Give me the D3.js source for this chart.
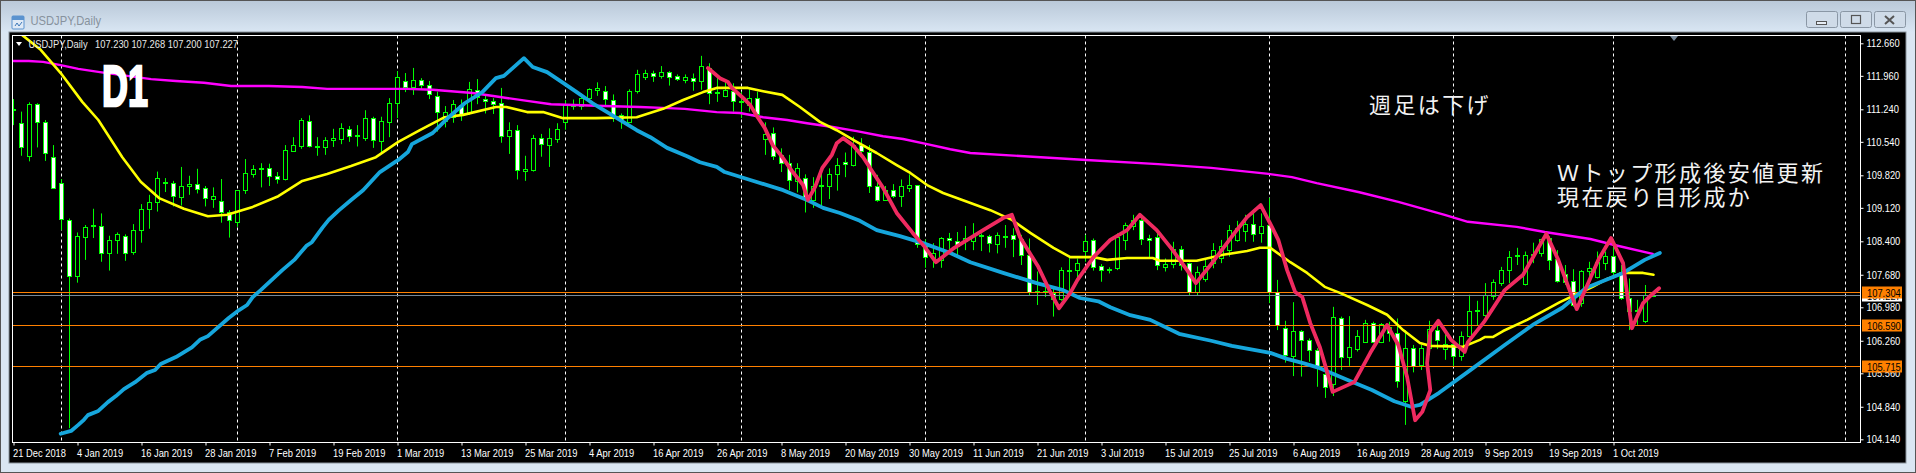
<!DOCTYPE html>
<html>
<head>
<meta charset="utf-8">
<script src="https://cdn.jsdelivr.net/npm/d3@7"></script>
<style>
    html, body { margin: 0; padding: 0; background: #000; overflow: hidden; }
    svg { display: block; }
    text { font-family: "Liberation Sans", sans-serif; }
    .jp { font-family: "Noto Sans CJK JP", sans-serif; font-size: 22px; letter-spacing: 2.4px; fill: #f2f2f2; }
</style>
</head>
<body>
<div id="chart"></div>
<script>
// daily candles
let opens = [
    111.20,110.94,110.24,111.35,110.96,110.21,109.65,108.85,107.64,108.49,
    108.72,108.72,108.14,108.42,108.51,108.16,108.63,109.08,109.24,109.67,
    109.65,109.34,109.58,109.63,109.54,109.30,109.26,109.02,108.82,109.49,
    109.84,109.94,109.97,109.80,109.73,110.35,110.44,110.98,110.43,110.42,
    110.57,110.59,110.81,110.65,110.63,111.05,110.54,110.97,111.36,111.84,
    111.71,111.86,111.76,111.52,110.97,111.08,111.33,111.15,111.65,111.45,
    111.41,111.37,110.67,110.79,109.90,109.94,110.62,110.46,110.59,110.96,
    111.30,111.30,111.46,111.65,111.63,111.43,111.11,110.97,111.62,111.93,
    112.01,111.94,112.04,111.95,111.86,111.91,111.84,112.12,111.61,111.53,
    111.62,111.40,111.33,111.47,110.59,110.72,110.24,110.07,109.70,109.76,
    109.28,109.58,109.58,109.84,110.10,110.04,110.47,110.31,109.58,109.28,
    109.49,109.36,109.54,109.60,108.32,108.04,108.00,108.45,108.39,108.41,
    108.41,108.51,108.50,108.33,108.51,108.53,108.44,108.10,107.30,107.29,
    107.28,107.15,107.75,107.77,108.18,108.42,107.86,107.77,107.82,108.41,
    108.72,108.84,108.46,108.49,107.83,107.90,108.23,107.93,107.30,107.57,
    107.93,108.03,108.20,108.43,108.61,108.77,108.56,108.74,107.30,106.53,
    105.92,106.46,106.26,106.06,105.54,105.31,106.74,105.90,106.06,106.23,
    106.63,106.22,106.54,106.42,104.97,106.10,105.73,106.10,106.48,106.06,
    106.19,105.93,106.35,106.91,106.81,107.22,107.51,107.78,108.08,107.47,
    108.11,108.12,108.46,108.00,107.69,107.54,107.07,107.75,107.63,107.94,
    108.08,107.73,107.17,106.89,106.66,107.230];
let highs = [
    111.46,111.19,111.39,111.37,111.01,110.47,109.74,108.89,108.59,108.75,
    109.10,109.00,108.52,108.59,108.55,108.77,109.20,109.40,109.90,109.76,
    109.70,110.00,109.81,109.96,109.59,109.56,109.74,109.07,109.50,110.17,
    110.04,110.08,110.07,109.89,110.47,110.64,111.05,111.11,110.64,110.64,
    110.82,110.94,110.88,110.90,111.22,111.08,111.08,111.48,112.06,112.02,
    112.13,111.91,111.85,111.62,111.31,111.44,111.45,111.83,111.89,111.56,
    111.48,111.70,110.96,110.90,110.24,110.69,110.71,110.83,110.94,111.44,
    111.45,111.58,111.69,111.82,111.74,111.56,111.15,111.67,112.09,112.09,
    112.07,112.17,112.06,111.99,111.99,112.01,112.39,112.23,111.94,111.87,
    111.80,111.62,111.67,111.62,110.96,110.85,110.40,110.26,110.08,109.84,
    109.78,109.97,109.97,110.19,110.31,110.65,110.62,110.47,109.83,109.59,
    109.63,109.73,109.84,109.61,108.44,108.36,108.49,108.58,108.60,108.73,
    108.79,108.57,108.54,108.59,108.75,108.68,108.54,108.46,107.75,107.46,
    107.41,107.84,108.07,108.03,108.54,108.46,107.91,107.84,108.57,108.80,
    108.97,108.97,108.54,108.57,108.03,108.39,108.30,107.94,107.86,108.00,
    108.36,108.43,108.75,108.84,108.97,109.07,109.00,109.33,107.57,106.69,
    107.09,106.49,106.31,106.10,105.70,106.99,106.78,106.79,106.49,106.71,
    106.67,106.64,106.67,106.74,106.49,106.17,106.17,106.69,106.62,106.41,
    106.28,106.46,107.25,107.12,107.50,107.58,107.85,108.19,108.26,108.18,
    108.37,108.44,108.51,108.21,107.89,107.80,107.78,107.96,108.18,108.18,
    108.30,107.89,107.60,107.14,107.46,107.268];
let lows = [
    110.90,110.24,110.12,110.42,110.13,109.53,108.64,104.38,107.51,108.00,
    108.47,107.96,107.77,108.13,107.98,108.11,108.37,108.67,109.04,109.46,
    109.15,109.17,109.40,109.43,109.15,109.12,108.80,108.48,108.71,109.42,
    109.77,109.56,109.59,109.64,109.71,110.33,110.39,110.42,110.24,110.26,
    110.43,110.49,110.54,110.44,110.56,110.41,110.32,110.64,111.05,111.61,
    111.55,111.66,111.46,110.76,110.85,110.95,110.99,111.12,111.35,111.15,
    111.14,110.52,110.28,109.73,109.70,109.90,110.22,110.00,110.52,110.80,
    111.23,111.23,111.37,111.53,111.30,110.97,110.82,110.95,111.58,111.87,
    111.83,111.90,111.75,111.85,111.80,111.64,111.66,111.35,111.40,111.50,
    111.19,111.05,111.19,111.08,110.26,110.15,109.89,109.50,109.45,109.02,
    109.12,109.15,109.31,109.49,109.78,110.01,110.26,109.44,109.25,109.27,
    109.33,109.14,109.46,108.26,107.83,107.83,107.83,108.15,108.06,108.21,
    108.21,108.19,108.16,108.14,108.26,108.06,107.89,107.23,107.03,107.20,
    106.78,107.12,107.32,107.50,107.96,107.77,107.53,107.71,107.78,108.21,
    108.64,108.32,108.03,107.78,107.75,107.82,107.77,107.23,107.23,107.53,
    107.82,107.93,108.07,108.39,108.39,108.39,108.37,107.07,106.49,105.79,
    105.50,105.49,105.81,105.27,105.03,105.07,105.63,105.72,106.03,106.22,
    106.21,106.21,106.24,105.25,104.45,105.58,105.63,105.95,106.08,105.85,
    105.72,105.83,106.29,106.58,106.74,107.14,107.44,107.50,107.89,107.45,
    107.93,108.07,107.78,107.51,107.46,106.99,106.99,107.50,107.60,107.78,
    107.64,107.14,106.49,106.60,106.64,107.200];
let closes = [
    111.23,110.42,111.35,110.96,110.29,109.54,108.87,107.64,108.50,108.70,
    108.73,108.14,108.42,108.55,108.14,108.64,109.09,109.24,109.76,109.64,
    109.37,109.58,109.63,109.53,109.33,109.37,109.02,108.85,109.50,109.86,
    109.95,109.96,109.80,109.74,110.36,110.47,111.00,110.44,110.45,110.57,
    110.62,110.83,110.67,110.68,111.05,110.57,110.98,111.37,111.93,111.71,
    111.86,111.75,111.56,111.17,111.17,111.35,111.13,111.67,111.50,111.40,
    111.34,110.65,110.79,109.93,109.95,110.62,110.50,110.62,110.81,111.33,
    111.33,111.48,111.66,111.69,111.45,111.10,111.01,111.63,111.99,112.01,
    111.95,112.03,111.93,111.89,111.93,111.84,112.16,111.58,111.58,111.65,
    111.41,111.37,111.47,111.12,110.70,110.23,110.07,109.71,109.97,109.30,
    109.58,109.59,109.84,110.04,110.05,110.46,110.34,109.58,109.28,109.50,
    109.36,109.58,109.60,108.32,108.06,108.14,108.47,108.41,108.28,108.47,
    108.51,108.52,108.36,108.53,108.48,108.44,108.10,107.30,107.32,107.31,
    107.15,107.78,107.78,107.93,108.40,107.84,107.77,107.79,108.49,108.73,
    108.84,108.44,108.42,107.88,107.90,108.23,107.89,107.30,107.73,107.86,
    108.21,108.29,108.64,108.68,108.77,108.56,108.72,107.30,106.60,105.94,
    106.46,106.27,106.05,105.70,105.27,106.75,105.90,106.12,106.35,106.64,
    106.23,106.61,106.41,105.39,106.10,105.72,106.10,106.51,106.26,106.17,
    105.93,106.35,106.89,106.92,107.23,107.52,107.78,108.06,108.10,108.10,
    108.12,108.43,107.99,107.53,107.52,107.02,107.75,107.82,107.95,108.08,
    107.73,107.17,106.89,106.91,107.23,107.227];

// moving averages and hand drawn lines: [bar index, price]
let yellowLine = [[1.06,112.84],[3.4,112.52],[5.9,112.02],[8.6,111.40],[10.6,111.01],[13.6,110.21],[15.9,109.68],[18.2,109.33],[21.3,109.10],[24.3,108.94],[26.7,108.97],[29.9,109.14],[33.1,109.37],[36.1,109.70],[39.2,109.85],[42.2,110.02],[45.3,110.21],[48.1,110.54],[50.8,110.79],[53.9,111.07],[56.2,111.12],[60.3,111.29],[61.6,111.29],[64.2,111.18],[66.2,111.18],[68.7,111.05],[72.8,111.05],[77.9,111.07],[81.2,111.25],[83.7,111.44],[86.2,111.61],[87.9,111.70],[91.8,111.70],[93.7,111.63],[96.1,111.55],[98.3,111.29],[100.8,110.97],[102.9,110.79],[105.4,110.54],[107.9,110.30],[110.4,110.04],[112.1,109.87],[114.2,109.61],[116.2,109.44],[119.2,109.25],[122.1,109.07],[124.8,108.86],[127.1,108.58],[130,108.26],[132.1,108.06],[135,108.06],[136.7,108.00],[139.2,108.04],[142.4,108.04],[143.3,107.98],[147.9,107.98],[151.2,108.11],[154.2,108.19],[155.8,108.26],[157.1,108.26],[159.6,107.95],[161.7,107.72],[163.9,107.42],[165.8,107.29],[169.2,107.03],[171.7,106.82],[173.7,106.49],[175.8,106.21],[177.1,106.15],[181.2,106.13],[183.3,106.28],[183.9,106.34],[184.9,106.34],[186.2,106.47],[189.2,106.71],[192.1,106.98],[193.3,107.09],[194.9,107.22],[197.4,107.42],[199.2,107.59],[201.2,107.72],[203.7,107.72],[205,107.68]];
let magentaLine = [[0,112.28],[1.9,112.28],[3.7,112.26],[5.9,112.19],[8.1,112.11],[10.8,112.04],[17.2,111.89],[20.3,111.85],[23.8,111.81],[27.2,111.74],[31.9,111.74],[36.1,111.72],[39.2,111.68],[49.3,111.68],[52.4,111.66],[57.4,111.59],[60.6,111.51],[64.2,111.42],[67.2,111.35],[73.8,111.31],[78.3,111.29],[81.1,111.27],[83.9,111.25],[87.9,111.18],[90.8,111.16],[93.7,111.07],[96.7,111.01],[99.2,110.94],[102.4,110.86],[105.4,110.77],[108.7,110.66],[111.2,110.60],[114.2,110.49],[117.1,110.38],[119.6,110.30],[134.1,110.15],[143.1,110.06],[149.7,109.98],[156.9,109.85],[159.8,109.78],[162.9,109.65],[168.1,109.46],[173.1,109.25],[178.9,108.97],[181.8,108.82],[187.9,108.71],[191.4,108.60],[197.1,108.45],[200.1,108.32],[204.9,108.13]];
let blueLine = [[5.9,104.26],[7.2,104.32],[8.1,104.45],[8.8,104.56],[9.3,104.66],[10.6,104.75],[11.8,104.94],[12.8,105.07],[13.8,105.22],[15.2,105.37],[16.7,105.57],[17.7,105.63],[18.4,105.76],[20.3,105.91],[22.3,106.12],[23.3,106.28],[24.3,106.36],[26.9,106.75],[28.2,106.92],[29.2,107.03],[29.9,107.20],[30.9,107.35],[33.6,107.78],[35.1,108.00],[36.6,108.30],[37.3,108.38],[38.6,108.69],[39.4,108.86],[40.7,109.07],[42.2,109.29],[43.7,109.50],[45.8,109.89],[48.1,110.15],[49.3,110.32],[49.8,110.49],[52.4,110.73],[54.4,111.07],[56.4,111.37],[58.6,111.61],[60.3,111.91],[61.3,111.96],[63.8,112.34],[64.9,112.15],[66.7,112.04],[68.7,111.81],[70.4,111.61],[72.4,111.37],[74.2,111.18],[76.2,110.97],[77.9,110.79],[79.6,110.64],[81.7,110.41],[84.2,110.23],[85.8,110.10],[87.9,110.00],[88.9,109.89],[92.1,109.72],[96.2,109.50],[99.2,109.29],[101.2,109.12],[103.3,109.01],[105.8,108.84],[107.9,108.64],[110.8,108.51],[113.7,108.36],[117.1,108.15],[119.6,107.95],[123.7,107.72],[127.9,107.50],[131.2,107.35],[133.3,107.18],[135.6,107.11],[137.1,106.98],[139.6,106.81],[142.1,106.71],[145.7,106.41],[149.7,106.26],[152.3,106.15],[157.1,106.00],[159.2,105.87],[161.2,105.78],[163.3,105.67],[166.7,105.42],[169.8,105.20],[172.6,104.96],[174.7,104.84],[175.8,104.88],[178.2,105.14],[181.8,105.59],[186.4,106.17],[189.9,106.60],[193.6,106.97],[196.6,107.40],[201.2,107.72],[203.9,108.00],[205.8,108.15]];
let pinkLine = [[86.8,112.13],[88.3,111.91],[89.3,111.83],[89.8,111.70],[91.1,111.50],[92.1,111.33],[92.9,111.10],[93.9,110.84],[94.9,110.47],[96.1,110.21],[97.4,109.89],[98.7,109.61],[99.3,109.29],[100.2,109.57],[101.1,109.98],[102.3,110.26],[102.9,110.51],[103.7,110.62],[104.9,110.47],[106.2,110.21],[107.4,109.89],[108.7,109.55],[110.4,109.01],[112.4,108.58],[113.9,108.28],[115.3,107.95],[117.6,108.26],[121.2,108.64],[123.7,108.90],[124.8,108.97],[125.8,108.49],[128.1,107.85],[129.6,107.31],[130.7,106.96],[132.1,107.29],[133,107.57],[135,108.06],[137.1,108.43],[139.2,108.64],[140.8,108.97],[142.9,108.64],[144.9,108.21],[146.7,107.78],[147.8,107.50],[149.9,107.95],[152.4,108.53],[154.2,108.92],[155.9,109.18],[157.3,108.71],[158.1,108.43],[159.2,107.78],[160.2,107.31],[161.1,107.20],[162.1,106.64],[163.3,106.12],[164.2,105.59],[164.9,105.16],[167.6,105.37],[169.6,106.00],[171.7,106.60],[173.1,106.17],[174.2,105.48],[175.2,104.55],[176.1,104.73],[177.1,105.20],[176.7,105.78],[177.1,106.45],[178.1,106.69],[179.7,106.28],[181.4,106.02],[181.8,106.23],[183.8,106.66],[186.4,107.35],[188.7,107.68],[191.6,108.56],[193.1,108.00],[195.4,106.94],[198.1,108.00],[199.7,108.47],[201.2,107.93],[201.8,107.14],[202.3,106.53],[203.7,107.07],[204.7,107.24],[205.7,107.39]];

let dateLabels = ["21 Dec 2018","4 Jan 2019","16 Jan 2019","28 Jan 2019","7 Feb 2019","19 Feb 2019","1 Mar 2019","13 Mar 2019","25 Mar 2019","4 Apr 2019","16 Apr 2019","26 Apr 2019","8 May 2019","20 May 2019","30 May 2019","11 Jun 2019","21 Jun 2019","3 Jul 2019","15 Jul 2019","25 Jul 2019","6 Aug 2019","16 Aug 2019","28 Aug 2019","9 Sep 2019","19 Sep 2019","1 Oct 2019"];
let dateBars = dateLabels.map((d, i) => i * 8);
let monthBars = [6,28,48,69,91,114,134,157,180,200,229];
let priceTicks = [112.66,111.96,111.24,110.54,109.82,109.12,108.40,107.68,106.98,106.26,105.56,104.84,104.14];
let levels = [107.304,106.590,105.715];
let bidPrice = 107.227;

let W = 1916, H = 473;
let plot = { left: 12.5, right: 1860.5, top: 35.5, bottom: 442.5 };

let svg = d3.select("#chart").append("svg").attr("width", W).attr("height", H);

let x = d3.scaleLinear().domain([0, 231]).range([13.5, 13.5 + 231 * 8]);
let y = d3.scaleLinear().domain([104.14, 112.66]).range([439.3, 43.3]);
let snap = v => Math.round(v - 0.5) + 0.5;

// condensed look of the terminal font
function squeeze(sel, f) {
    sel.each(function () {
        d3.select(this).attr("textLength", this.getComputedTextLength() * f).attr("lengthAdjust", "spacingAndGlyphs");
    });
}

// window chrome
let defs = svg.append("defs");
let grad = defs.append("linearGradient").attr("id", "titleGrad").attr("x1", 0).attr("y1", 0).attr("x2", 0).attr("y2", 1);
grad.append("stop").attr("offset", 0).attr("stop-color", "#b9c8d8");
grad.append("stop").attr("offset", 1).attr("stop-color", "#dae7f4");
defs.append("clipPath").attr("id", "plotClip").append("rect")
    .attr("x", plot.left).attr("y", plot.top).attr("width", plot.right - plot.left).attr("height", plot.bottom - plot.top);

svg.append("rect").attr("width", W).attr("height", H).attr("fill", "#dae6f2");
svg.append("rect").attr("width", W).attr("height", 33).attr("fill", "url(#titleGrad)");
svg.append("rect").attr("x", 0.5).attr("y", 0.5).attr("width", W - 1).attr("height", H - 1)
    .attr("fill", "none").attr("stroke", "#555");
svg.append("rect").attr("x", 9).attr("y", 32).attr("width", 1897).attr("height", 431)
    .attr("fill", "#000").attr("stroke", "#8a939c").attr("stroke-width", 1);

// title icon
svg.append("rect").attr("x", 12).attr("y", 16).attr("width", 12).attr("height", 13).attr("rx", 1)
    .attr("fill", "#dfeaf6").attr("stroke", "#5b93cf");
svg.append("rect").attr("x", 12).attr("y", 16).attr("width", 12).attr("height", 4).attr("fill", "#5b93cf");
svg.append("path").attr("d", "M15 26 L17 23 L19 26 L22 22").attr("fill", "none").attr("stroke", "#3d78b8");

svg.append("text").text("USDJPY,Daily").attr("x", 30.5).attr("y", 25)
    .attr("font-size", 13).attr("fill", "#87929d").call(squeeze, 0.86);

// window buttons
let btn = svg.append("g");
[[1806, "min"], [1840, "max"], [1874, "close"]].forEach(b => {
    btn.append("rect").attr("x", b[0] + 0.5).attr("y", 11.5).attr("width", 31).attr("height", 16).attr("rx", 2)
        .attr("fill", "#cfdbe8").attr("stroke", "#8a97a5");
});
btn.append("rect").attr("x", 1816.5).attr("y", 21.5).attr("width", 10).attr("height", 3).attr("fill", "#e8eef5").attr("stroke", "#555");
btn.append("rect").attr("x", 1851.5).attr("y", 15.5).attr("width", 9).attr("height", 8).attr("fill", "none").attr("stroke", "#555").attr("stroke-width", 1.2);
btn.append("path").attr("d", "M1885 16 L1894 24 M1894 16 L1885 24").attr("stroke", "#555").attr("stroke-width", 2);

let chart = svg.append("g").attr("clip-path", "url(#plotClip)");

// month separators
chart.append("g").selectAll("line").data(monthBars).enter().append("line")
    .attr("x1", d => x(d)).attr("x2", d => x(d))
    .attr("y1", plot.top).attr("y2", plot.bottom)
    .attr("stroke", "#fff").attr("stroke-dasharray", "3,3");

// candles
let bars = d3.range(opens.length);
chart.append("g").selectAll("line").data(bars).enter().append("line")
    .attr("x1", i => x(i)).attr("x2", i => x(i))
    .attr("y1", i => y(highs[i])).attr("y2", i => y(lows[i]))
    .attr("stroke", "#00ff00");
chart.append("g").selectAll("rect").data(bars).enter().append("rect")
    .attr("x", i => x(i) - 2).attr("width", 4)
    .attr("y", i => snap(y(Math.max(opens[i], closes[i]))))
    .attr("height", i => Math.max(1, Math.round(Math.abs(y(opens[i]) - y(closes[i])))))
    .attr("fill", i => closes[i] >= opens[i] ? "#000" : "#fff")
    .attr("stroke", "#00ff00");

// horizontal levels
chart.append("g").selectAll("line").data(levels).enter().append("line")
    .attr("x1", plot.left).attr("x2", plot.right)
    .attr("y1", d => snap(y(d))).attr("y2", d => snap(y(d)))
    .attr("stroke", "#ff8000").attr("stroke-width", 1.2);
chart.append("line").attr("x1", plot.left).attr("x2", plot.right)
    .attr("y1", snap(y(bidPrice))).attr("y2", snap(y(bidPrice)))
    .attr("stroke", "#778899").attr("stroke-width", 1.2);

let line = d3.line().x(d => x(d[0])).y(d => y(d[1]));
[[magentaLine, "#ff00ff", 2.4], [yellowLine, "#ffff00", 2.6], [blueLine, "#16a6dc", 3.8], [pinkLine, "#ef2a60", 3.8]].forEach(s => {
    chart.append("path").attr("d", line(s[0])).attr("fill", "none")
        .attr("stroke", s[1]).attr("stroke-width", s[2])
        .attr("stroke-linejoin", "round").attr("stroke-linecap", "round");
});

// frame
svg.append("rect").attr("x", plot.left).attr("y", plot.top)
    .attr("width", plot.right - plot.left).attr("height", plot.bottom - plot.top)
    .attr("fill", "none").attr("stroke", "#fff");

// shift marker
svg.append("path").attr("d", "M1670 36 L1678 36 L1674 41 Z").attr("fill", "#778899");

// axes
let yAxis = d3.axisRight(y).tickValues(priceTicks).tickFormat(d3.format(".3f")).tickSize(3).tickPadding(3);
let yG = svg.append("g").attr("transform", "translate(" + plot.right + ",0)").call(yAxis);
let xAxis = d3.axisBottom(x).tickValues(dateBars).tickFormat((d, i) => dateLabels[i]).tickSize(3).tickPadding(3);
let xG = svg.append("g").attr("transform", "translate(0," + plot.bottom + ")").call(xAxis);
[yG, xG].forEach(g => {
    g.select(".domain").remove();
    g.selectAll("line").attr("stroke", "#fff");
    g.selectAll("text").attr("fill", "#fff").attr("font-size", 11).attr("font-family", "Liberation Sans").call(squeeze, 0.85);
});
xG.selectAll("text").attr("text-anchor", "start").attr("dx", -1).attr("y", 7).attr("dy", "0.71em");

// price labels on the right axis
let tagG = svg.append("g");
let tags = [{ v: bidPrice, bg: "#fff" }].concat(levels.map(v => ({ v: v, bg: "#ff8000" })));
tags.forEach(t => {
    let cy = snap(y(t.v));
    tagG.append("rect").attr("x", 1862).attr("y", cy - 6).attr("width", 40).attr("height", 12).attr("fill", t.bg);
    tagG.append("text").text(d3.format(".3f")(t.v)).attr("x", 1867).attr("y", cy + 4)
        .attr("font-size", 11).attr("fill", "#000").call(squeeze, 0.85);
});

// symbol line, top left
svg.append("path").attr("d", "M16 42 L22 42 L19 46 Z").attr("fill", "#fff");
let n = opens.length - 1;
svg.append("text").text("USDJPY,Daily").attr("x", 28.5).attr("y", 48)
    .attr("font-size", 11).attr("fill", "#e8e8e8").call(squeeze, 0.85);
svg.append("text")
    .text([opens[n], highs[n], lows[n], closes[n]].map(d3.format(".3f")).join(" "))
    .attr("x", 95).attr("y", 48)
    .attr("font-size", 11).attr("fill", "#e8e8e8").call(squeeze, 0.85);

// annotations
svg.append("text").text("D1").attr("x", 102).attr("y", 106)
    .attr("font-size", 57).attr("font-weight", "bold").attr("fill", "#fff")
    .attr("stroke", "#fff").attr("stroke-width", 2.5)
    .attr("textLength", 46).attr("lengthAdjust", "spacingAndGlyphs");
svg.append("text").attr("class", "jp").text("週足は下げ").attr("x", 1369).attr("y", 113);
svg.append("text").attr("class", "jp").text("Ｗトップ形成後安値更新").attr("x", 1557).attr("y", 181);
svg.append("text").attr("class", "jp").text("現在戻り目形成か").attr("x", 1557).attr("y", 205);
</script>
</body>
</html>
